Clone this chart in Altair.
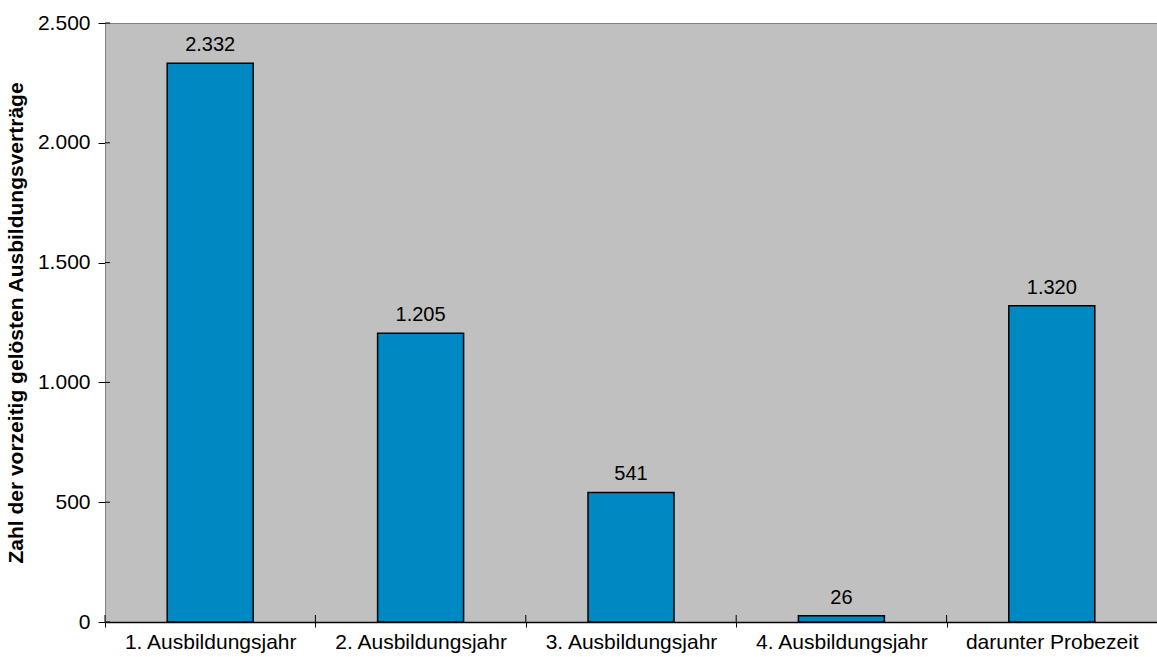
import altair as alt
import pandas as pd

categories = ["1. Ausbildungsjahr", "2. Ausbildungsjahr", "3. Ausbildungsjahr",
              "4. Ausbildungsjahr", "darunter Probezeit"]
values = [2332, 1205, 541, 26, 1320]
labels = ["2.332", "1.205", "541", "26", "1.320"]
y_ticks = [0, 500, 1000, 1500, 2000, 2500]

df = pd.DataFrame({"cat": categories, "val": values, "lab": labels})
ticks_df = pd.DataFrame({"t": y_ticks})

FONT = "Liberation Sans"

x_scale = alt.Scale(domain=categories, paddingInner=0, paddingOuter=0)
x_enc = alt.X("cat:N", sort=categories, title=None, scale=x_scale,
              axis=alt.Axis(labelAngle=0, labelFont=FONT, labelFontSize=21,
                            labelColor="black", labelPadding=4,
                            tickBand="extent", tickSize=5, tickColor="black",
                            domainColor="black", domainWidth=1.5))
y_scale = alt.Scale(domain=[0, 2500], nice=False)
y_enc = alt.Y("val:Q", scale=y_scale,
              title="Zahl der vorzeitig gelösten Ausbildungsverträge",
              axis=alt.Axis(values=y_ticks, format=",d", labelFont=FONT,
                            labelFontSize=21, labelColor="black", labelPadding=8,
                            tickSize=7, tickColor="black", domainColor="#808080",
                            grid=False, titleFont=FONT, titleFontSize=21,
                            titleFontWeight="bold", titleColor="black",
                            titlePadding=11))

bars = alt.Chart(df).mark_bar(size=86, color="#0088c2", stroke="black",
                               strokeWidth=1.5).encode(x=x_enc, y=y_enc)
text = alt.Chart(df).mark_text(baseline="bottom", dy=-8, font=FONT,
                                fontSize=20, color="black").encode(
    x=alt.X("cat:N", sort=categories, scale=x_scale),
    y=alt.Y("val:Q", scale=y_scale), text="lab:N")

# inner halves of the y-axis ticks (ticks cross the axis line)
y_inner = alt.Chart(ticks_df).mark_rule(color="black", strokeWidth=1).encode(
    x=alt.value(0), x2=alt.value(5), y=alt.Y("t:Q", scale=y_scale))
# inner halves of the x-axis ticks at category boundaries
x_inner = alt.Chart(df).mark_rule(color="black", strokeWidth=1).encode(
    x=alt.X("cat:N", sort=categories, scale=x_scale, bandPosition=0),
    y=alt.value(592), y2=alt.value(599))

chart = alt.layer(bars, text, y_inner, x_inner).properties(
    width=1052, height=599,
    autosize=alt.AutoSizeParams(type="none"),
    padding={"left": 105, "top": 23, "right": 0, "bottom": 35},
    background="white",
).configure(
    view=alt.ViewConfig(fill="#c0c0c0", stroke="#808080", strokeWidth=1),
    locale={"number": {"decimal": ",", "thousands": ".", "grouping": [3],
                       "currency": ["", " €"]}},
)

chart.save("out.html", embed_options={"renderer": "svg", "actions": False})
